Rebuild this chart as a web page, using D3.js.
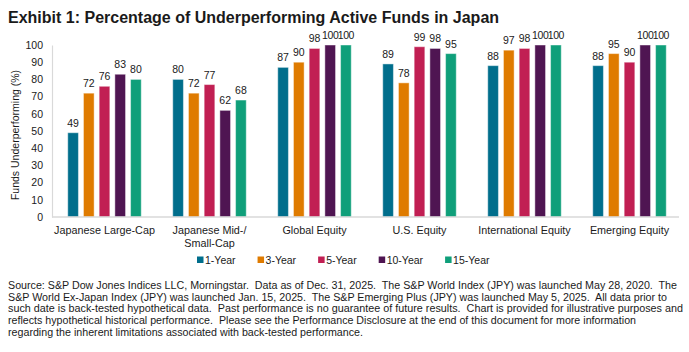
<!DOCTYPE html>
<html>
<head>
<meta charset="utf-8">
<script src="https://cdn.jsdelivr.net/npm/d3@7"></script>
<style>
  body { margin: 0; background: #fff; }
  text { font-family: "Liberation Sans", Arial, sans-serif; fill: #1a1a1a; }
</style>
</head>
<body>
<div id="chart"></div>
<script>
// categories, series and values
const categories = ["Japanese Large-Cap", "Japanese Mid-/\nSmall-Cap", "Global Equity", "U.S. Equity", "International Equity", "Emerging Equity"];
const series = ["1-Year", "3-Year", "5-Year", "10-Year", "15-Year"];
const colors = ["#006e8c", "#df7b00", "#c11f53", "#4f1552", "#0f9f7a"];
const values = [
    [49, 72, 76, 83, 80],
    [80, 72, 77, 62, 68],
    [87, 90, 98, 100, 100],
    [89, 78, 99, 98, 95],
    [88, 97, 98, 100, 100],
    [88, 95, 90, 100, 100]
];
const yTicks = [0, 10, 20, 30, 40, 50, 60, 70, 80, 90, 100];
const footnote = [
    "Source: S&P Dow Jones Indices LLC, Morningstar.  Data as of Dec. 31, 2025.  The S&P World Index (JPY) was launched May 28, 2020.  The",
    "S&P World Ex-Japan Index (JPY) was launched Jan. 15, 2025.  The S&P Emerging Plus (JPY) was launched May 5, 2025.  All data prior to",
    "such date is back-tested hypothetical data.  Past performance is no guarantee of future results.  Chart is provided for illustrative purposes and",
    "reflects hypothetical historical performance.  Please see the Performance Disclosure at the end of this document for more information",
    "regarding the inherent limitations associated with back-tested performance."
];
// rough widths of each footnote line in the reference
const footnoteWidths = [669, 659, 675, 628, 355];

const width = 689, height = 352;
const margin = { top: 45, left: 52, right: 7 };
const plotBottom = 217;

const svg = d3.select("#chart").append("svg")
    .attr("width", width)
    .attr("height", height);

svg.append("text")
    .attr("x", 8).attr("y", 23)
    .style("font-size", "16px")
    .style("font-weight", "bold")
    .text("Exhibit 1: Percentage of Underperforming Active Funds in Japan");

const x0 = d3.scaleBand()
    .domain(categories)
    .range([margin.left, width - margin.right])
    .padding(0);

const groupInset = 15.75;
const x1 = d3.scaleBand()
    .domain(series)
    .range([groupInset, x0.bandwidth() - groupInset])
    .paddingInner(0.32)
    .paddingOuter(0);

const y = d3.scaleLinear()
    .domain([0, 100])
    .range([plotBottom, margin.top]);

// y axis
const yAxis = svg.append("g")
    .attr("transform", "translate(" + margin.left + ",0)")
    .call(d3.axisLeft(y).tickValues(yTicks).tickSize(0).tickPadding(9));
yAxis.select(".domain").attr("stroke", "#d9d9d9").attr("stroke-width", 1.2);
yAxis.selectAll("text")
    .style("font-size", "10.5px")
    .style("font-family", "'Liberation Sans', Arial, sans-serif")
    .attr("fill", "#1a1a1a");

svg.append("text")
    .attr("transform", "translate(15," + (y(50) + 4) + ") rotate(-90)")
    .attr("text-anchor", "middle")
    .attr("dy", "0.35em")
    .style("font-size", "10.5px")
    .text("Funds Underperforming (%)");

// bars
const groups = svg.append("g").selectAll("g")
    .data(categories)
    .join("g")
    .attr("transform", d => "translate(" + x0(d) + ",0)");

groups.selectAll("rect")
    .data((d, i) => values[i].map((v, j) => ({ key: series[j], value: v, color: colors[j] })))
    .join("rect")
    .attr("x", d => x1(d.key))
    .attr("y", d => y(d.value))
    .attr("width", x1.bandwidth())
    .attr("height", d => y(0) - y(d.value))
    .attr("fill", d => d.color)
    .attr("stroke", "rgba(255,255,255,0.45)")
    .attr("stroke-width", 1);

groups.selectAll("text.val")
    .data((d, i) => values[i].map((v, j) => ({ key: series[j], value: v })))
    .join("text")
    .attr("class", "val")
    .attr("x", d => x1(d.key) + x1.bandwidth() / 2)
    .attr("y", d => y(d.value) - 6)
    .attr("text-anchor", "middle")
    .style("font-size", "10.5px")
    .style("letter-spacing", d => d.value >= 100 ? "-0.4px" : null)
    .text(d => d.value);

// baseline
svg.append("line")
    .attr("x1", margin.left).attr("x2", 679)
    .attr("y1", y(0)).attr("y2", y(0))
    .attr("stroke", "#d9d9d9")
    .attr("stroke-width", 1.5);

// category labels
const catLabels = svg.append("g").selectAll("text")
    .data(categories)
    .join("text")
    .attr("x", d => x0(d) + x0.bandwidth() / 2)
    .attr("y", 234)
    .attr("text-anchor", "middle")
    .style("font-size", "10.8px");
catLabels.selectAll("tspan")
    .data(d => d.split("\n"))
    .join("tspan")
    .attr("x", function() { return d3.select(this.parentNode).attr("x"); })
    .attr("dy", (d, i) => i === 0 ? 0 : 12.5)
    .text(d => d);

// legend
const legend = svg.append("g").attr("transform", "translate(197,260)");
let lx = 0;
series.forEach((s, i) => {
    const item = legend.append("g").attr("transform", "translate(" + lx + ",0)");
    item.append("rect")
        .attr("x", 0).attr("y", -3.5)
        .attr("width", 6.5).attr("height", 6.5)
        .attr("fill", colors[i]);
    const t = item.append("text")
        .attr("x", 8).attr("y", 4)
        .style("font-size", "10.5px")
        .text(s);
    lx += 8 + t.node().getComputedTextLength() + 22;
});

// footnote
svg.append("g").selectAll("text")
    .data(footnote)
    .join("text")
    .attr("x", 8)
    .attr("y", (d, i) => 289 + i * 11.7)
    .attr("xml:space", "preserve")
    .style("white-space", "pre")
    .style("font-size", "10px")
    .attr("textLength", (d, i) => footnoteWidths[i])
    .attr("lengthAdjust", "spacingAndGlyphs")
    .text(d => d);
</script>
</body>
</html>
